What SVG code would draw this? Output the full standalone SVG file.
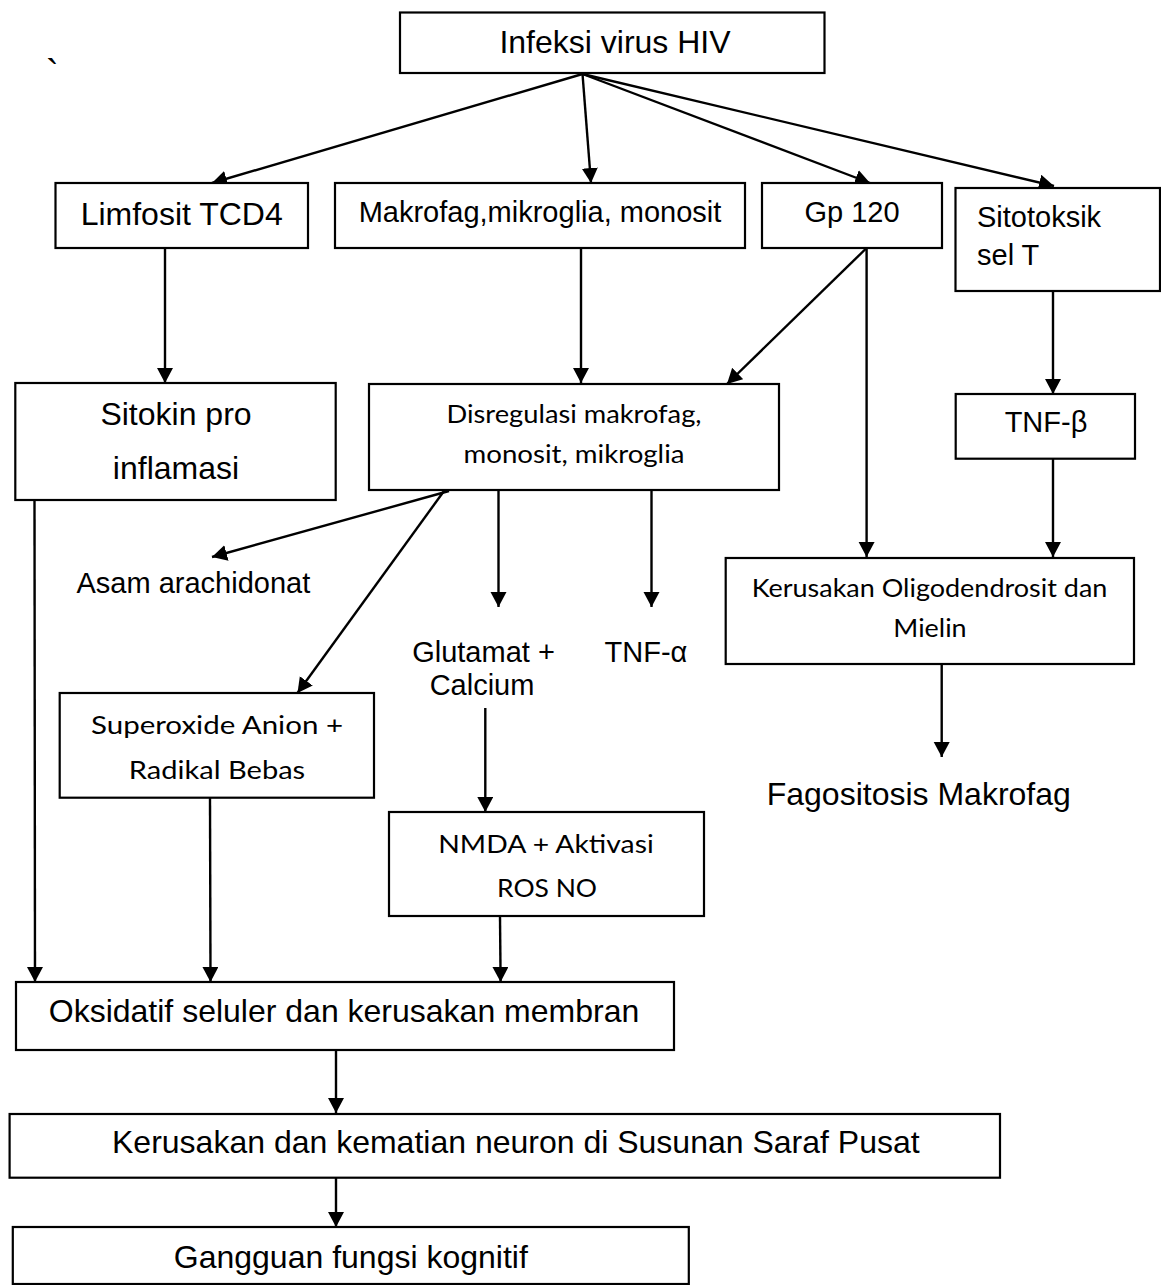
<svg xmlns="http://www.w3.org/2000/svg" width="1161" height="1285" viewBox="0 0 1161 1285">
<style>
.box{fill:#fff;stroke:#000;stroke-width:2.2}
.a{font-family:"Liberation Sans",Arial,sans-serif;fill:#000}
.a32{font-size:32px}
.a29{font-size:29px}
.c{font-family:Lato,"Open Sans",sans-serif;font-size:25.5px;fill:#000}
.m{text-anchor:middle}
#connectors line{stroke:#000;stroke-width:2.4;fill:none}
</style>
<defs>
<marker id="arr" markerUnits="userSpaceOnUse" markerWidth="18" markerHeight="18" refX="15" refY="8" orient="auto">
<path d="M0,0 L15,8 L0,16 z" fill="#000"/>
</marker>
</defs>
<rect width="1161" height="1285" fill="#fff"/>
<text class="a" font-size="38" x="46" y="87">`</text>

<g id="connectors">
<line x1="582.5" y1="74" x2="212" y2="183" marker-end="url(#arr)"/>
<line x1="582.5" y1="74" x2="591" y2="183" marker-end="url(#arr)"/>
<line x1="582.5" y1="74" x2="870" y2="183" marker-end="url(#arr)"/>
<line x1="582.5" y1="74" x2="1054" y2="186" marker-end="url(#arr)"/>
<line x1="165" y1="248" x2="165" y2="383" marker-end="url(#arr)"/>
<line x1="581" y1="248" x2="581" y2="383" marker-end="url(#arr)"/>
<line x1="866.6" y1="248" x2="727" y2="384" marker-end="url(#arr)"/>
<line x1="866.6" y1="248" x2="866.6" y2="557" marker-end="url(#arr)"/>
<line x1="1053" y1="291" x2="1053" y2="394" marker-end="url(#arr)"/>
<line x1="1053" y1="459" x2="1053" y2="557" marker-end="url(#arr)"/>
<line x1="941.7" y1="664" x2="941.7" y2="757" marker-end="url(#arr)"/>
<line x1="34.5" y1="500" x2="35" y2="982" marker-end="url(#arr)"/>
<line x1="449" y1="491" x2="212" y2="557" marker-end="url(#arr)"/>
<line x1="444" y1="491" x2="297.5" y2="693" marker-end="url(#arr)"/>
<line x1="498.5" y1="490" x2="498.5" y2="607" marker-end="url(#arr)"/>
<line x1="651.5" y1="490" x2="651.5" y2="607" marker-end="url(#arr)"/>
<line x1="485.3" y1="708" x2="485.3" y2="812" marker-end="url(#arr)"/>
<line x1="210" y1="798" x2="210.5" y2="982" marker-end="url(#arr)"/>
<line x1="500" y1="916" x2="500.6" y2="982" marker-end="url(#arr)"/>
<line x1="336" y1="1050" x2="336" y2="1113" marker-end="url(#arr)"/>
<line x1="336" y1="1178" x2="336" y2="1227" marker-end="url(#arr)"/>
</g>

<g id="n-infeksi">
<rect class="box" x="400" y="12.5" width="424.5" height="60.5"/>
<text class="a a32" x="499.4" y="53.3">Infeksi virus HIV</text>
</g>
<g id="n-limfosit">
<rect class="box" x="55.5" y="183" width="252.5" height="65"/>
<text class="a a32 m" x="181.7" y="225">Limfosit TCD4</text>
</g>
<g id="n-makrofag">
<rect class="box" x="335" y="183" width="410" height="65"/>
<text class="a a29 m" x="540" y="222">Makrofag,mikroglia, monosit</text>
</g>
<g id="n-gp120">
<rect class="box" x="762" y="183" width="180" height="65"/>
<text class="a a29 m" x="852" y="222">Gp 120</text>
</g>
<g id="n-sitotoksik">
<rect class="box" x="955.5" y="188" width="204.5" height="103"/>
<text class="a a29" x="977" y="227">Sitotoksik</text>
<text class="a a29" x="977" y="265">sel T</text>
</g>
<g id="n-sitokin">
<rect class="box" x="15.3" y="383" width="320.4" height="117"/>
<text class="a a32 m" x="176" y="425">Sitokin pro</text>
<text class="a a32 m" x="176" y="479">inflamasi</text>
</g>
<g id="n-disregulasi">
<rect class="box" x="369" y="384" width="410" height="106"/>
<text class="c m" x="574" y="423" textLength="255" lengthAdjust="spacingAndGlyphs">Disregulasi makrofag,</text>
<text class="c m" x="574" y="463" textLength="221" lengthAdjust="spacingAndGlyphs">monosit, mikroglia</text>
</g>
<g id="n-tnfb">
<rect class="box" x="955.7" y="394" width="179.3" height="64.7"/>
<text class="a a29 m" x="1046" y="431.7">TNF-β</text>
</g>
<g id="n-asam">
<text class="a a29" x="76.5" y="593">Asam arachidonat</text>
</g>
<g id="n-glutamat">
<text class="a a29 m" x="483.5" y="662">Glutamat +</text>
<text class="a a29 m" x="482" y="695">Calcium</text>
</g>
<g id="n-tnfa">
<text class="a a29" x="604.6" y="662">TNF-α</text>
</g>
<g id="n-oligo">
<rect class="box" x="725.7" y="558" width="408.3" height="106"/>
<text class="c m" x="929.5" y="596.7" textLength="355.7" lengthAdjust="spacingAndGlyphs">Kerusakan Oligodendrosit dan</text>
<text class="c m" x="930" y="637" textLength="73.3" lengthAdjust="spacingAndGlyphs">Mielin</text>
</g>
<g id="n-fagositosis">
<text class="a a32" x="766.7" y="805">Fagositosis Makrofag</text>
</g>
<g id="n-superoxide">
<rect class="box" x="59.7" y="693" width="314.3" height="104.7"/>
<text class="c m" x="217" y="734" textLength="252" lengthAdjust="spacingAndGlyphs">Superoxide Anion +</text>
<text class="c m" x="217" y="779" textLength="176.4" lengthAdjust="spacingAndGlyphs">Radikal Bebas</text>
</g>
<g id="n-nmda">
<rect class="box" x="389" y="812" width="315" height="104"/>
<text class="c m" x="546" y="852.7" textLength="215.5" lengthAdjust="spacingAndGlyphs">NMDA + Aktivasi</text>
<text class="c m" x="547" y="897" textLength="100" lengthAdjust="spacingAndGlyphs">ROS NO</text>
</g>
<g id="n-oksidatif">
<rect class="box" x="16" y="982" width="658" height="68"/>
<text class="a a32 m" x="344" y="1021.7">Oksidatif seluler dan kerusakan membran</text>
</g>
<g id="n-neuron">
<rect class="box" x="9.6" y="1114" width="990.4" height="63.7"/>
<text class="a a32" x="112" y="1153">Kerusakan dan kematian neuron di Susunan Saraf Pusat</text>
</g>
<g id="n-gangguan">
<rect class="box" x="12.8" y="1227" width="676" height="57"/>
<text class="a a32 m" x="350.8" y="1268">Gangguan fungsi kognitif</text>
</g>
</svg>
